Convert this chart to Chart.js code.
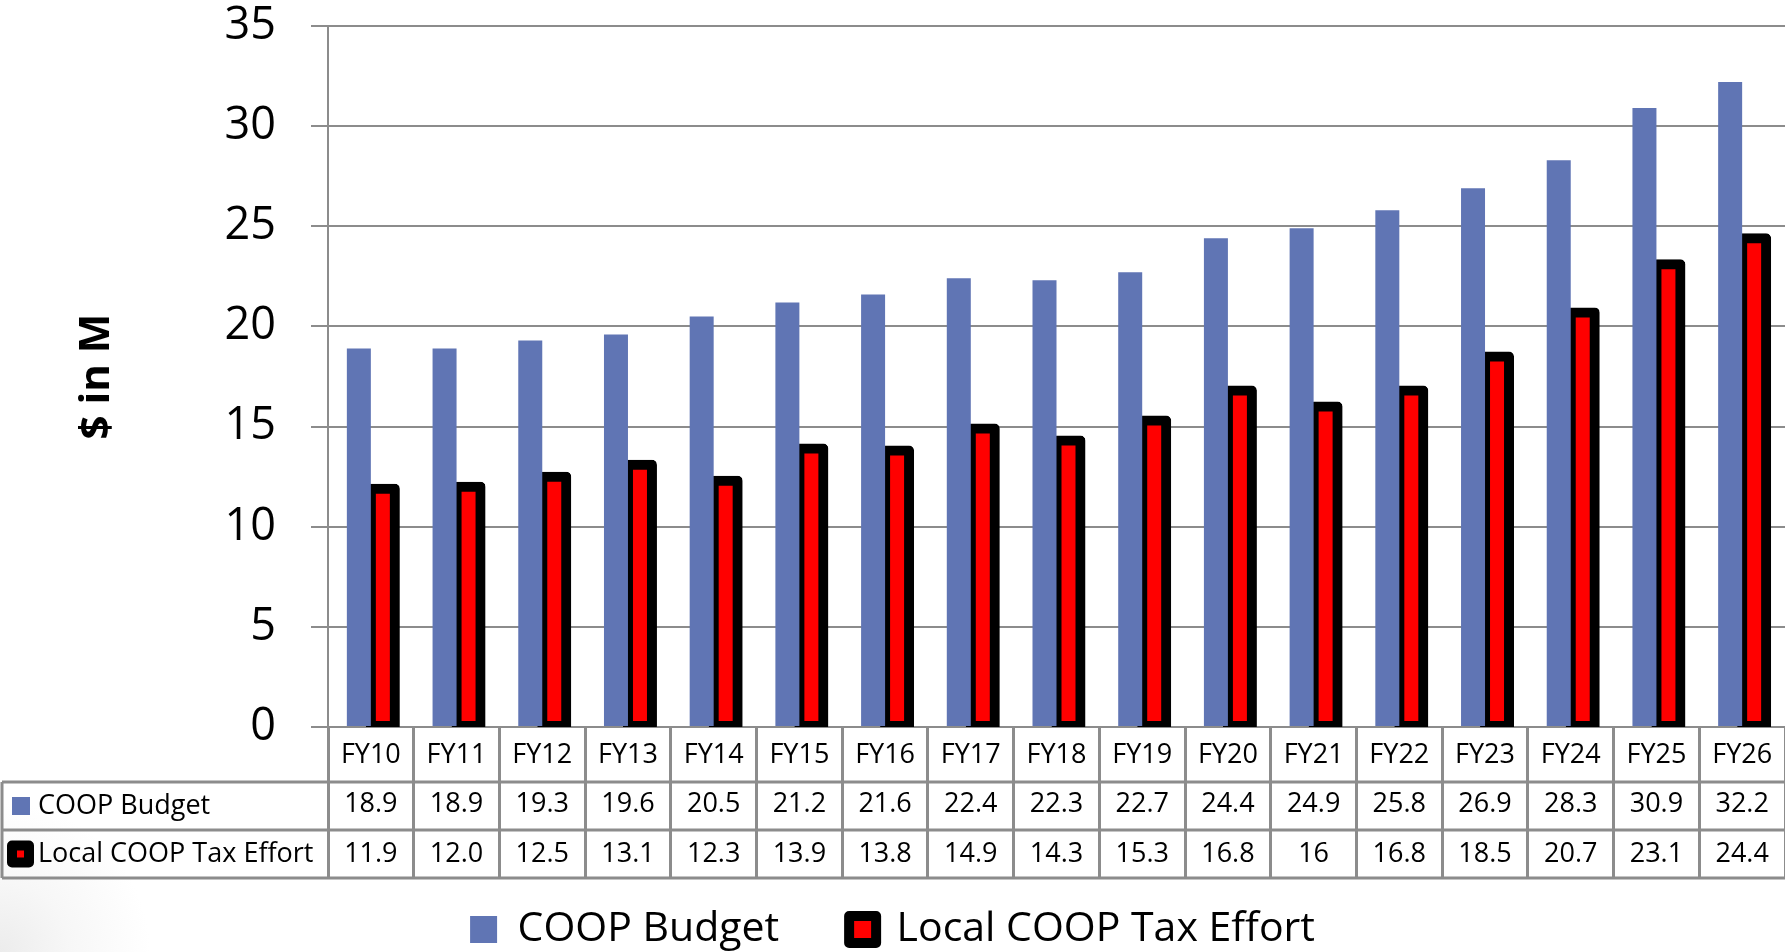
<!DOCTYPE html>
<html>
<head>
<meta charset="utf-8">
<title>COOP Budget vs Local COOP Tax Effort</title>
<script src="https://cdn.jsdelivr.net/npm/chart.js@4.4.1/dist/chart.umd.min.js"></script>
<style>
  html, body { margin: 0; padding: 0; }
  body {
    width: 1785px; height: 952px; overflow: hidden;
    background: radial-gradient(circle at 0 100%, #ececec 0, #f7f7f7 70px, #fff 150px);
  }
</style>
</head>
<body>
<canvas id="coopChart" width="1785" height="952"></canvas>
<script>
// Fiscal years
const categories = ['FY10', 'FY11', 'FY12', 'FY13', 'FY14', 'FY15', 'FY16', 'FY17', 'FY18',
  'FY19', 'FY20', 'FY21', 'FY22', 'FY23', 'FY24', 'FY25', 'FY26'];

// $ in millions
const budget = [18.9, 18.9, 19.3, 19.6, 20.5, 21.2, 21.6, 22.4, 22.3, 22.7, 24.4, 24.9, 25.8, 26.9, 28.3, 30.9, 32.2];
const taxEffort = [11.9, 12.0, 12.5, 13.1, 12.3, 13.9, 13.8, 14.9, 14.3, 15.3, 16.8, 16, 16.8, 18.5, 20.7, 23.1, 24.4];

// text as it shows in the data table
const budgetText = ['18.9', '18.9', '19.3', '19.6', '20.5', '21.2', '21.6', '22.4', '22.3', '22.7', '24.4', '24.9', '25.8', '26.9', '28.3', '30.9', '32.2'];
const taxEffortText = ['11.9', '12.0', '12.5', '13.1', '12.3', '13.9', '13.8', '14.9', '14.3', '15.3', '16.8', '16', '16.8', '18.5', '20.7', '23.1', '24.4'];

// y axis ticks
const yMin = 0;
const yMax = 35;
const yStep = 5;

const FONT = "'Open Sans', 'Liberation Sans', sans-serif";
const GRID = '#8c8c8c';
const BLUE = '#6075b4';
const RED = '#ff0000';

// Draws the row lines and the series names of the data table under the axis
const dataTable = {
  id: 'dataTable',
  afterDraw(chart) {
    const ctx = chart.ctx;
    const xs = chart.scales.x;
    const rows = [xs.top + 55, xs.top + 103, xs.top + 151];

    ctx.save();
    ctx.strokeStyle = GRID;
    ctx.lineWidth = 3;
    ctx.beginPath();
    rows.forEach(y => {
      ctx.moveTo(2, y);
      ctx.lineTo(xs.right, y);
    });
    ctx.moveTo(2, rows[0]);
    ctx.lineTo(2, rows[2]);
    ctx.stroke();

    ctx.font = '27px ' + FONT;
    ctx.textBaseline = 'middle';
    ctx.textAlign = 'left';
    chart.data.datasets.forEach((ds, i) => {
      const cy = (rows[i] + rows[i + 1]) / 2;
      if (ds.borderWidth) {
        ctx.fillStyle = ds.backgroundColor;
        ctx.strokeStyle = ds.borderColor;
        ctx.lineWidth = 10;
        ctx.lineJoin = 'round';
        ctx.beginPath();
        ctx.rect(12, cy - 8.5, 17, 17);
        ctx.fill();
        ctx.stroke();
      } else {
        ctx.fillStyle = ds.backgroundColor;
        ctx.fillRect(12, cy - 9, 18, 18);
      }
      ctx.fillStyle = '#000';
      ctx.fillText(ds.label, 38, cy);
    });
    ctx.restore();
  }
};

const ctx = document.getElementById('coopChart').getContext('2d');
const coopChart = new Chart(ctx, {
  type: 'bar',
  data: {
    labels: categories,
    datasets: [{
      label: 'COOP Budget',
      data: budget,
      backgroundColor: BLUE,
      borderWidth: 0,
      categoryPercentage: 0.56,
      barPercentage: 1
    }, {
      label: 'Local COOP Tax Effort',
      data: taxEffort,
      backgroundColor: RED,
      borderColor: '#000',
      borderWidth: 10,
      borderRadius: 5,
      borderSkipped: false,
      // outline centred on the bar edge, like the original
      inflateAmount: 5,
      categoryPercentage: 0.56,
      barPercentage: 1
    }]
  },
  options: {
    responsive: false,
    devicePixelRatio: 1,
    animation: false,
    events: [],
    layout: { padding: 0 },
    scales: {
      x: {
        afterFit(scale) { scale.height = 112; },
        grid: {
          drawOnChartArea: false,
          drawTicks: true,
          tickLength: 151,
          color: GRID,
          lineWidth: 3,
          offset: true
        },
        border: { display: true, color: GRID, width: 2 },
        ticks: {
          autoSkip: false,
          maxRotation: 0,
          // mirror keeps the three table rows from being clipped to the axis box
          mirror: true,
          padding: -52.75,
          color: '#000',
          font: { family: FONT, size: 27, lineHeight: '49.5px' },
          callback: (value, i) => [categories[i], budgetText[i], taxEffortText[i]]
        }
      },
      y: {
        min: yMin,
        max: yMax,
        afterFit(scale) {
          scale.width = 328;
          scale.paddingTop = 26;
          scale.paddingBottom = 0;
        },
        grid: { color: GRID, lineWidth: 2, tickLength: 17 },
        border: { display: true, color: GRID, width: 2 },
        ticks: {
          stepSize: yStep,
          padding: 35,
          color: '#000',
          font: { family: FONT, size: 45 }
        },
        title: {
          display: true,
          text: '$ in M',
          color: '#000',
          padding: { top: 72, bottom: 0 },
          font: { family: FONT, size: 42, weight: 'bold' }
        }
      }
    },
    plugins: {
      tooltip: { enabled: false },
      legend: {
        position: 'bottom',
        maxHeight: 113,
        labels: {
          color: '#000',
          font: { family: FONT, size: 41 },
          boxWidth: 27,
          boxHeight: 27,
          padding: 70,
          generateLabels(chart) {
            const items = Chart.defaults.plugins.legend.labels.generateLabels(chart);
            items.forEach(item => { item.lineJoin = 'round'; });
            return items;
          }
        }
      }
    }
  },
  plugins: [dataTable]
});
</script>
</body>
</html>
